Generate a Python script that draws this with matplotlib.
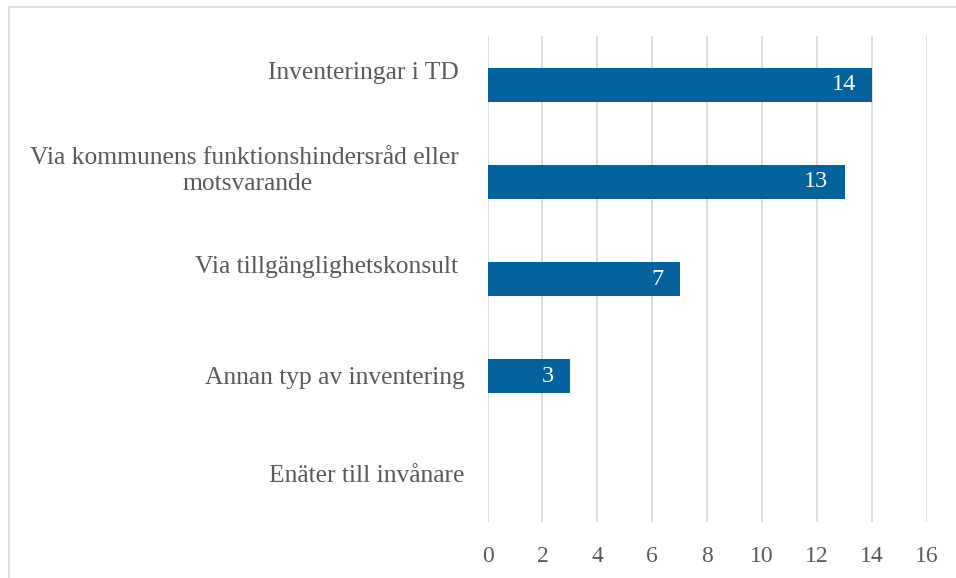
import matplotlib.pyplot as plt
from matplotlib.patches import Rectangle

# categories top to bottom, as in the chart
categories = [
    "Inventeringar i TD ",
    "Via kommunens funktionshindersråd eller \nmotsvarande",
    "Via tillgänglighetskonsult ",
    "Annan typ av inventering",
    "Enäter till invånare",
]
values = [14, 13, 7, 3, 0]
xticks = [0, 2, 4, 6, 8, 10, 12, 14, 16]
# the first three labels sit a little above their bars in the original
label_raise = [8, 8, 8.5, -1.5, -2]

bar_color = "#03629B"
text_color = "#595959"
grid_color = "#D9D9D9"

plt.rcParams['font.family'] = ['Liberation Serif', 'DejaVu Serif']

fig = plt.figure(figsize=(9.56, 5.78), dpi=100)
ax = fig.add_axes([0.510, 0.0969, 0.4597, 0.8408])

# outer chart border (right and bottom are cut off in the original)
fig.patches.append(Rectangle((8.5 / 956, -0.1), 1.2, 1.1 - 7.5 / 578,
                             transform=fig.transFigure, fill=False,
                             edgecolor=grid_color, linewidth=1.2))

y = list(range(len(categories)))
bars = ax.barh(y, values, height=0.35, color=bar_color, zorder=3)

for b, v in zip(bars, values):
    if v > 0:
        ax.text(v - 0.6, b.get_y() + b.get_height() / 2, str(v),
                color="white", fontsize=17.5, ha="right", va="center", zorder=4)

for i, (lab, dy) in enumerate(zip(categories, label_raise)):
    ax.annotate(lab, xy=(0, i), xycoords=("axes fraction", "data"),
                xytext=(-16.5, dy), textcoords="offset points",
                ha="right", va="center", multialignment="center",
                color=text_color, fontsize=18.4, linespacing=1.25)

ax.set_xlim(0, 16)
ax.set_ylim(len(categories) - 0.5, -0.5)
ax.set_xticks(xticks)
ax.set_xticklabels([str(t) for t in xticks])
ax.set_yticks(y)
ax.set_yticklabels([])

ax.tick_params(axis="both", length=0, colors=text_color, labelsize=17)
ax.tick_params(axis="x", pad=17)
for s in ax.spines.values():
    s.set_visible(False)
ax.grid(axis="x", color=grid_color, linewidth=1.3, zorder=0)
ax.set_axisbelow(True)

fig.savefig("out.png", dpi=100)
